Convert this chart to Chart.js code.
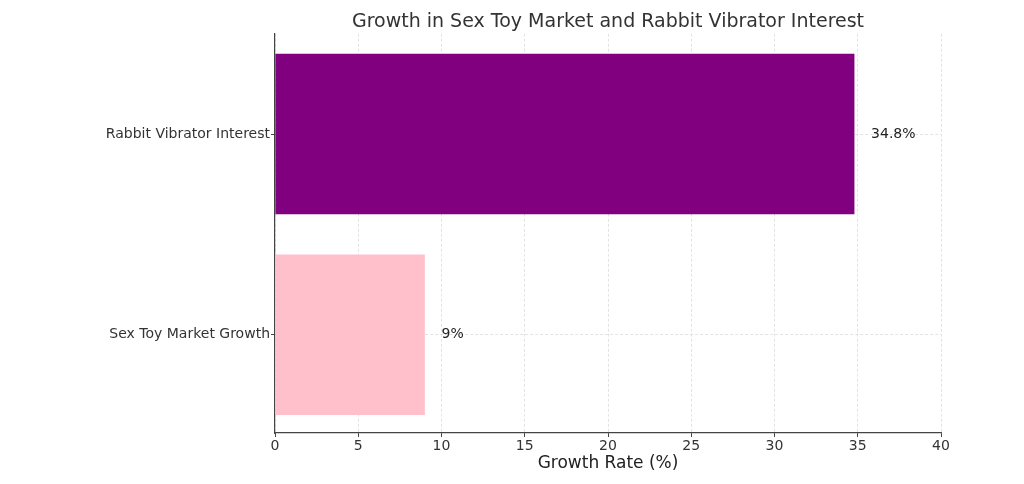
<!DOCTYPE html>
<html>
<head>
<meta charset="utf-8">
<title>Growth in Sex Toy Market and Rabbit Vibrator Interest</title>
<script src="https://cdn.jsdelivr.net/npm/chart.js@4/dist/chart.umd.min.js"></script>
<style>
    html, body { margin: 0; padding: 0; background: #fff; }
    #wrap { width: 1024px; height: 484px; position: relative; }
</style>
</head>
<body>
<div id="wrap"><canvas id="growthChart"></canvas></div>
<script>
// Chart data (top to bottom)
const categories = ['Rabbit Vibrator Interest', 'Sex Toy Market Growth'];
const growthRates = [34.8, 9];
const xTicks = [0, 5, 10, 15, 20, 25, 30, 35, 40];

const barColors = ['#800080', '#ffc0cb'];
const gridColor = 'rgba(190, 190, 190, 0.55)';
const axisColor = '#444';
const fontFamily = '"DejaVu Sans", sans-serif';

// bars sit on a numeric index axis (0 = top row), like matplotlib barh
const points = growthRates.map((v, i) => ({ x: v, y: i }));

// Draws "34.8%" etc. one data unit to the right of each bar
const valueLabels = {
    id: 'valueLabels',
    afterDatasetsDraw(chart) {
        const ctx = chart.ctx;
        const xScale = chart.scales.x;
        const meta = chart.getDatasetMeta(0);
        ctx.save();
        ctx.font = '14px ' + fontFamily;
        ctx.fillStyle = '#222';
        ctx.textAlign = 'left';
        ctx.textBaseline = 'middle';
        meta.data.forEach((bar, i) => {
            const v = growthRates[i];
            ctx.fillText(v + '%', xScale.getPixelForValue(v + 1), bar.y);
        });
        ctx.restore();
    }
};

new Chart(document.getElementById('growthChart').getContext('2d'), {
    type: 'bar',
    data: {
        datasets: [{
            data: points,
            backgroundColor: barColors,
            borderWidth: 0,
            barPercentage: 0.8,
            categoryPercentage: 1.0
        }]
    },
    plugins: [valueLabels],
    options: {
        indexAxis: 'y',
        responsive: true,
        maintainAspectRatio: false,
        animation: false,
        layout: { padding: { left: 0, right: 83, top: 0, bottom: 0 } },
        plugins: {
            legend: { display: false },
            tooltip: { enabled: false },
            title: {
                display: true,
                fullSize: false,
                text: 'Growth in Sex Toy Market and Rabbit Vibrator Interest',
                color: '#333',
                font: { family: fontFamily, size: 19, weight: 'normal', lineHeight: 1.2 },
                padding: { top: 11, bottom: 0 },
                align: 'center'
            }
        },
        scales: {
            x: {
                type: 'linear',
                min: 0,
                max: 40,
                z: 1,
                afterBuildTicks(scale) {
                    scale.ticks = xTicks.map(v => ({ value: v }));
                },
                afterFit(scale) { scale.height = 51; },
                grid: {
                    color: gridColor,
                    lineWidth: 0.8,
                    drawTicks: true,
                    tickLength: 4,
                    tickColor: axisColor,
                    tickWidth: 1
                },
                border: { display: true, color: axisColor, width: 1.2, dash: [3, 2] },
                ticks: {
                    color: '#333',
                    padding: 1,
                    maxRotation: 0,
                    font: { family: fontFamily, size: 14 }
                },
                title: {
                    display: true,
                    text: 'Growth Rate (%)',
                    color: '#222',
                    font: { family: fontFamily, size: 17, lineHeight: 1.2 },
                    padding: { top: 0, bottom: 10 }
                }
            },
            y: {
                type: 'linear',
                reverse: true,
                offset: false,
                min: -0.5,
                max: 1.49,
                z: 1,
                afterBuildTicks(scale) {
                    scale.ticks = categories.map((c, i) => ({ value: i }));
                },
                afterFit(scale) { scale.width = 275; },
                grid: {
                    offset: false,
                    color: gridColor,
                    lineWidth: 0.8,
                    drawTicks: true,
                    tickLength: 4,
                    tickColor: axisColor,
                    tickWidth: 1
                },
                border: { display: true, color: axisColor, width: 1.2, dash: [3, 2] },
                ticks: {
                    color: '#333',
                    padding: 1,
                    font: { family: fontFamily, size: 14 },
                    callback: value => categories[value]
                }
            }
        }
    }
});
</script>
</body>
</html>
